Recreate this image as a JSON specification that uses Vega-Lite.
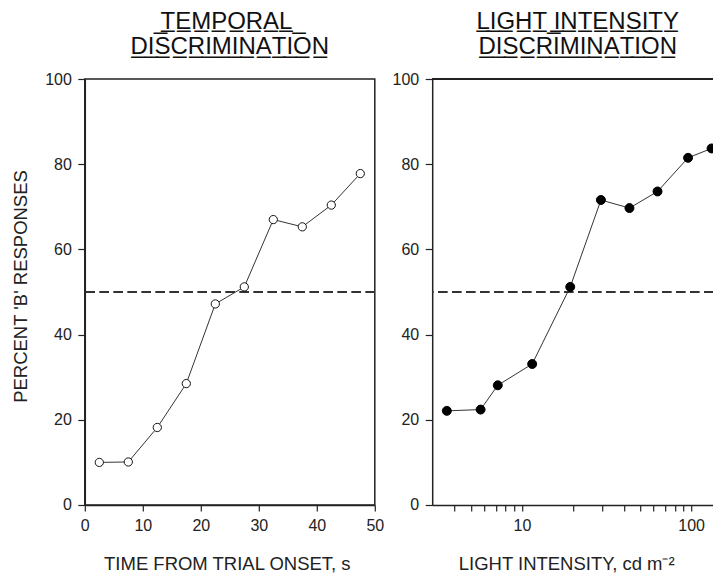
{
  "$schema": "https://vega.github.io/schema/vega-lite/v6.json",
  "padding": {"left": 10.8, "top": 9, "right": 0, "bottom": 0},
  "background": "white",
  "datasets": {
    "temporal": [
      {"time": 2.5, "pct": 10.0},
      {"time": 7.5, "pct": 10.1},
      {"time": 12.5, "pct": 18.2},
      {"time": 17.5, "pct": 28.5},
      {"time": 22.5, "pct": 47.2},
      {"time": 27.5, "pct": 51.2},
      {"time": 32.5, "pct": 67.0},
      {"time": 37.5, "pct": 65.3},
      {"time": 42.5, "pct": 70.4},
      {"time": 47.5, "pct": 77.8}
    ],
    "light": [
      {"intensity": 3.6, "pct": 22.1},
      {"intensity": 5.7, "pct": 22.4},
      {"intensity": 7.2, "pct": 28.1},
      {"intensity": 11.5, "pct": 33.1},
      {"intensity": 19.3, "pct": 51.2},
      {"intensity": 29.3, "pct": 71.6},
      {"intensity": 43.2, "pct": 69.7},
      {"intensity": 63.3, "pct": 73.6},
      {"intensity": 95.9, "pct": 81.5},
      {"intensity": 132, "pct": 83.7}
    ]
  },
  "spacing": 57.4,
  "bounds": "flush",
  "config": {
    "font": "Liberation Sans",
    "view": {"stroke": "#222", "strokeWidth": 1.5},
    "axis": {
      "grid": false,
      "domainColor": "#222",
      "domainWidth": 1.5,
      "tickColor": "#222",
      "tickWidth": 1.2,
      "tickSize": 6,
      "labelFont": "Liberation Sans",
      "labelFontSize": 16,
      "labelColor": "#222",
      "titleFont": "Liberation Sans",
      "titleFontSize": 18.5,
      "titleFontWeight": "normal",
      "titleColor": "#222",
      "labelFlush": false,
      "labelOverlap": false
    },
    "axisX": {"labelPadding": 7, "titlePadding": 21},
    "axisY": {"labelPadding": 6.5, "tickSize": 7},
    "title": {
      "font": "Liberation Sans",
      "fontSize": 24,
      "fontWeight": "normal",
      "color": "#111",
      "lineHeight": 25.5,
      "offset": 11.5,
      "baseline": "bottom",
      "anchor": "middle"
    }
  },
  "hconcat": [
    {
      "width": 290,
      "height": 426,
      "title": {"text": [" \u0332T\u0332E\u0332M\u0332P\u0332O\u0332R\u0332A\u0332L\u0332 \u0332", "D\u0332I\u0332S\u0332C\u0332R\u0332I\u0332M\u0332I\u0332N\u0332A\u0332T\u0332I\u0332O\u0332N\u0332"]},
      "data": {"name": "temporal"},
      "layer": [
        {
          "mark": {"type": "rule", "strokeDash": [9, 5], "color": "#333", "strokeWidth": 1.2},
          "encoding": {
            "y": {"datum": 50, "type": "quantitative", "scale": {"domain": [0, 100], "nice": false},
                  "axis": {"values": [0, 20, 40, 60, 80, 100], "title": "PERCENT 'B' RESPONSES", "titleY": 207, "titlePadding": 14}}
          }
        },
        {
          "mark": {"type": "line", "color": "#333", "strokeWidth": 1},
          "encoding": {
            "x": {"field": "time", "type": "quantitative", "scale": {"domain": [0, 50], "nice": false},
                  "axis": {"values": [0, 10, 20, 30, 40, 50], "title": "TIME FROM TRIAL ONSET, s", "titleX": 142}},
            "y": {"field": "pct", "type": "quantitative", "scale": {"domain": [0, 100], "nice": false},
                  "axis": {"values": [0, 20, 40, 60, 80, 100], "title": "PERCENT 'B' RESPONSES", "titleY": 207, "titlePadding": 14}}
          }
        },
        {
          "mark": {"type": "point", "filled": true, "fill": "white", "stroke": "#111", "strokeWidth": 1, "size": 68, "opacity": 1},
          "encoding": {
            "x": {"field": "time", "type": "quantitative"},
            "y": {"field": "pct", "type": "quantitative"}
          }
        }
      ]
    },
    {
      "width": 281,
      "height": 426,
      "view": {"stroke": null},
      "title": {"text": ["L\u0332I\u0332G\u0332H\u0332T\u0332 \u0332I\u0332N\u0332T\u0332E\u0332N\u0332S\u0332I\u0332T\u0332Y\u0332", "D\u0332I\u0332S\u0332C\u0332R\u0332I\u0332M\u0332I\u0332N\u0332A\u0332T\u0332I\u0332O\u0332N\u0332"], "dx": 5},
      "data": {"name": "light"},
      "layer": [
        {
          "mark": {"type": "rule", "strokeDash": [9, 5], "color": "#333", "strokeWidth": 1.2},
          "encoding": {
            "y": {"datum": 50, "type": "quantitative", "scale": {"domain": [0, 100], "nice": false},
                  "axis": {"values": [0, 20, 40, 60, 80, 100], "title": null}}
          }
        },
        {
          "mark": {"type": "rule", "color": "#222", "strokeWidth": 1.5},
          "encoding": {
            "y": {"datum": 100, "type": "quantitative"}
          }
        },
        {
          "mark": {"type": "line", "color": "#333", "strokeWidth": 1, "clip": true},
          "encoding": {
            "x": {"field": "intensity", "type": "quantitative", "scale": {"type": "log", "domain": [2.95, 135], "nice": false},
                  "axis": {"values": [4, 5, 6, 7, 8, 9, 10, 20, 30, 40, 50, 60, 70, 80, 90, 100],
                           "labelExpr": "datum.value == 10 ? '10' : datum.value == 100 ? '100' : ''",
                           "title": "LIGHT INTENSITY, cd m\u207b\u00b2", "titleX": 134}},
            "y": {"field": "pct", "type": "quantitative", "scale": {"domain": [0, 100], "nice": false},
                  "axis": {"values": [0, 20, 40, 60, 80, 100], "title": null}}
          }
        },
        {
          "mark": {"type": "point", "filled": true, "fill": "#000", "stroke": "#000", "strokeWidth": 1, "size": 80, "opacity": 1, "clip": true},
          "encoding": {
            "x": {"field": "intensity", "type": "quantitative"},
            "y": {"field": "pct", "type": "quantitative"}
          }
        }
      ]
    }
  ]
}
